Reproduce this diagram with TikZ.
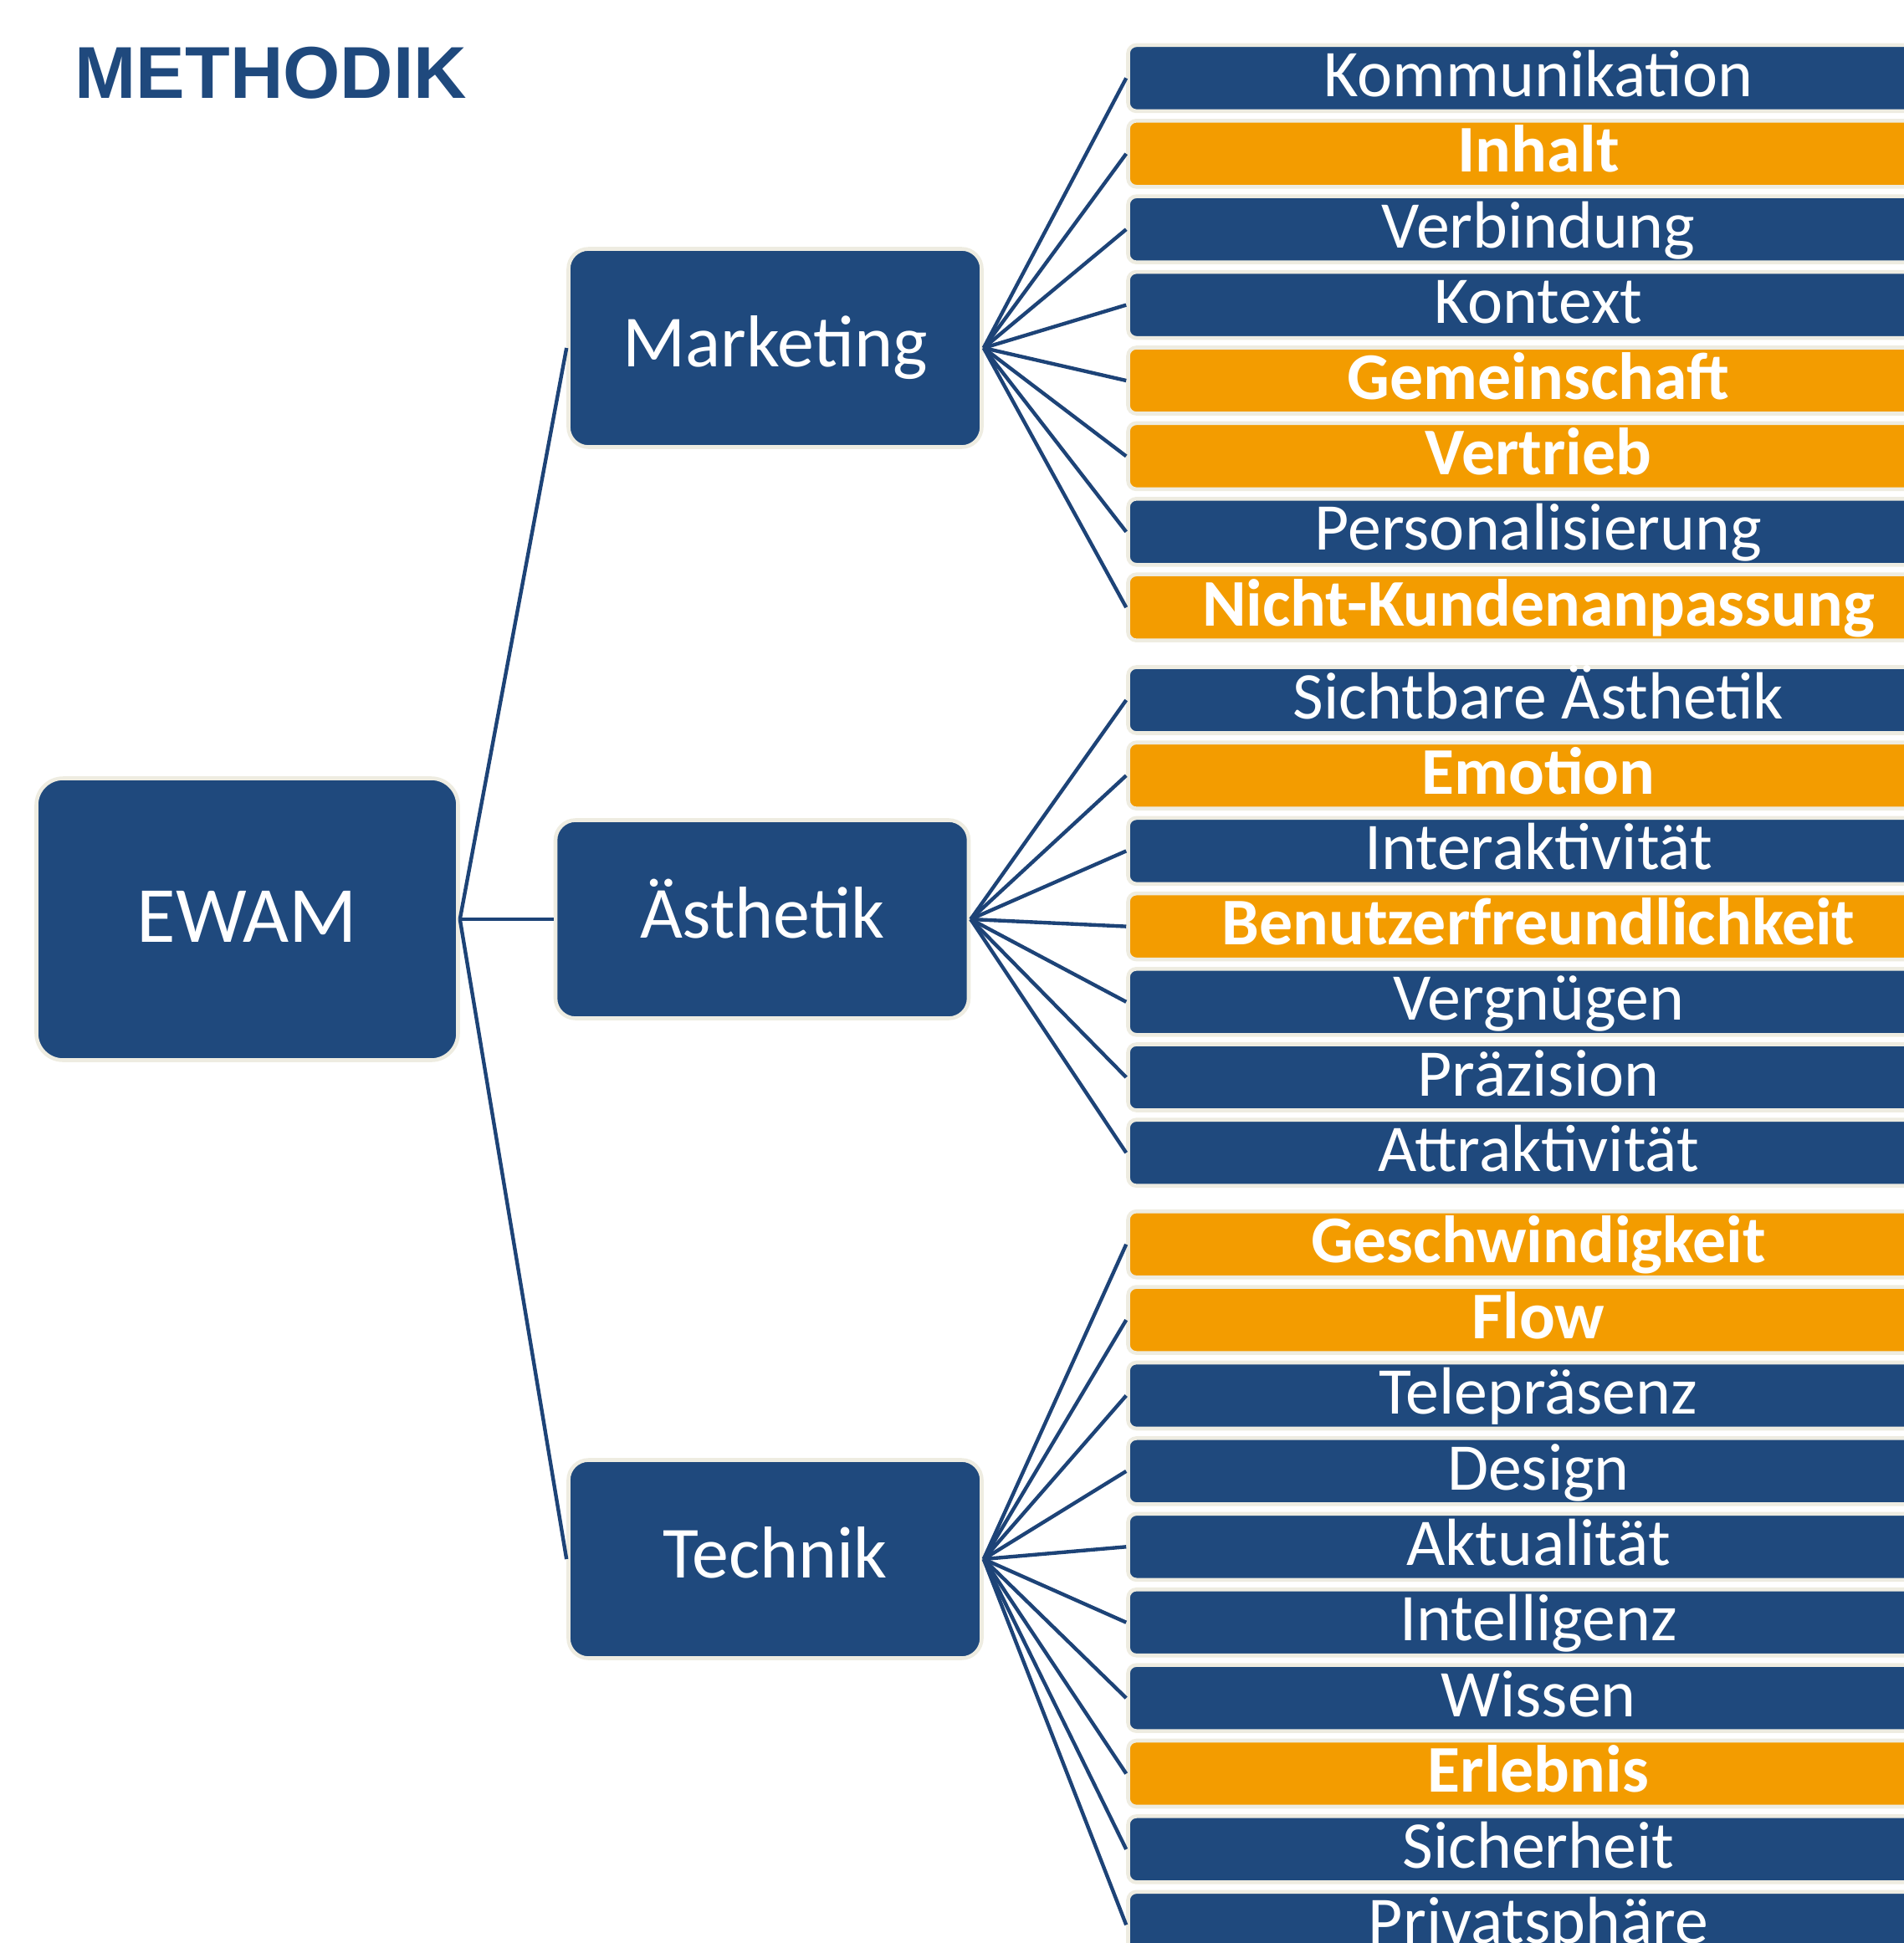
\documentclass[tikz,border=0pt]{standalone}
\usepackage{fontspec}
\setmainfont{Carlito}
\newfontfamily\headfont{Liberation Sans}

\definecolor{boxblue}{HTML}{1F497D}
\definecolor{linkblue}{HTML}{1D4377}
\definecolor{keyorange}{HTML}{F39C00}
\definecolor{rimbeige}{HTML}{EEECE1}

\newcommand{\hubfont}{\fontsize{27.1}{32}\selectfont}
\newcommand{\areafont}{\fontsize{25}{30}\selectfont}
\newcommand{\itemfont}{\fontsize{22.7}{27}\selectfont}

\begin{document}
\begin{tikzpicture}[
  hub/.style={draw=rimbeige, line width=1.3pt, fill=boxblue, text=white,
    rounded corners=0.32cm, minimum width=5.04cm, minimum height=3.37cm,
    text height=20.3pt, text depth=4.6pt, font=\hubfont},
  area/.style={hub, rounded corners=0.24cm, minimum width=4.94cm,
    minimum height=2.37cm, text height=18.75pt, text depth=5.75pt, font=\areafont},
  item/.style={draw=rimbeige, line width=1.3pt, fill=boxblue, text=white,
    rounded corners=0.1cm, minimum width=9.81cm, minimum height=0.79cm,
    text height=17pt, text depth=4.4pt, inner sep=0pt, font=\itemfont},
  key/.style={item, fill=keyorange, font=\itemfont\bfseries},
  link/.style={draw=linkblue, line width=1.25pt}
]
\useasboundingbox (0,0) rectangle (22.76,-23.23);
\clip (0,0) rectangle (22.76,-23.23);

% ── Heading ──────────────────────────────────────────────────────────────────
\node[anchor=base west, inner sep=0, text=boxblue,
  font=\headfont\bfseries\fontsize{25}{30}\selectfont] (title) at (0.89,-1.17) {METHODIK};

% ── Root and the three areas ─────────────────────────────────────────────────
\node[hub]  (ewam)      at (2.955,-10.99) {EWAM};
\node[area] (marketing) at (9.265,-4.16) {Marketing};
\node[area] (aesthetik) at (9.11,-10.99) {Ästhetik};
\node[area] (technik)   at (9.265,-18.64) {Technik};

% ── Marketing criteria ───────────────────────────────────────────────────────
\node[item] (komm)         at (18.39,-0.934) {Kommunikation};
\node[key]  (inhalt)       at (18.39,-1.838) {Inhalt};
\node[item] (verbindung)   at (18.39,-2.742) {Verbindung};
\node[item] (kontext)      at (18.39,-3.646) {Kontext};
\node[key]  (gemeinschaft) at (18.39,-4.550) {Gemeinschaft};
\node[key]  (vertrieb)     at (18.39,-5.454) {Vertrieb};
\node[item] (personal)     at (18.39,-6.358) {Personalisierung};
\node[key]  (nichtkunden)  at (18.39,-7.262) {Nicht-Kundenanpassung};

% ── Ästhetik criteria ────────────────────────────────────────────────────────
\node[item] (sichtbar)   at (18.39,-8.370) {Sichtbare Ästhetik};
\node[key]  (emotion)    at (18.39,-9.272) {Emotion};
\node[item] (interakt)   at (18.39,-10.174) {Interaktivität};
\node[key]  (benutzer)   at (18.39,-11.076) {Benutzerfreundlichkeit};
\node[item] (vergnuegen) at (18.39,-11.978) {Vergnügen};
\node[item] (praezision) at (18.39,-12.880) {Präzision};
\node[item] (attrakt)    at (18.39,-13.782) {Attraktivität};

% ── Technik criteria ─────────────────────────────────────────────────────────
\node[key]  (geschw)       at (18.39,-14.877) {Geschwindigkeit};
\node[key]  (flow)         at (18.39,-15.781) {Flow};
\node[item] (telepraesenz) at (18.39,-16.685) {Telepräsenz};
\node[item] (design)       at (18.39,-17.589) {Design};
\node[item] (aktual)       at (18.39,-18.493) {Aktualität};
\node[item] (intell)       at (18.39,-19.397) {Intelligenz};
\node[item] (wissen)       at (18.39,-20.301) {Wissen};
\node[key]  (erlebnis)     at (18.39,-21.205) {Erlebnis};
\node[item] (sicherheit)   at (18.39,-22.109) {Sicherheit};
\node[item] (privat)       at (18.39,-23.013) {Privatsphäre};

% ── Links ────────────────────────────────────────────────────────────────────

% root to areas
\draw[link] (ewam.east) -- (marketing.west);
\draw[link] (ewam.east) -- (aesthetik.west);
\draw[link] (ewam.east) -- (technik.west);

% Marketing fan
\draw[link] (marketing.east) -- (komm.west);
\draw[link] (marketing.east) -- (inhalt.west);
\draw[link] (marketing.east) -- (verbindung.west);
\draw[link] (marketing.east) -- (kontext.west);
\draw[link] (marketing.east) -- (gemeinschaft.west);
\draw[link] (marketing.east) -- (vertrieb.west);
\draw[link] (marketing.east) -- (personal.west);
\draw[link] (marketing.east) -- (nichtkunden.west);

% Ästhetik fan
\draw[link] (aesthetik.east) -- (sichtbar.west);
\draw[link] (aesthetik.east) -- (emotion.west);
\draw[link] (aesthetik.east) -- (interakt.west);
\draw[link] (aesthetik.east) -- (benutzer.west);
\draw[link] (aesthetik.east) -- (vergnuegen.west);
\draw[link] (aesthetik.east) -- (praezision.west);
\draw[link] (aesthetik.east) -- (attrakt.west);

% Technik fan
\draw[link] (technik.east) -- (geschw.west);
\draw[link] (technik.east) -- (flow.west);
\draw[link] (technik.east) -- (telepraesenz.west);
\draw[link] (technik.east) -- (design.west);
\draw[link] (technik.east) -- (aktual.west);
\draw[link] (technik.east) -- (intell.west);
\draw[link] (technik.east) -- (wissen.west);
\draw[link] (technik.east) -- (erlebnis.west);
\draw[link] (technik.east) -- (sicherheit.west);
\draw[link] (technik.east) -- (privat.west);

\end{tikzpicture}
\end{document}
